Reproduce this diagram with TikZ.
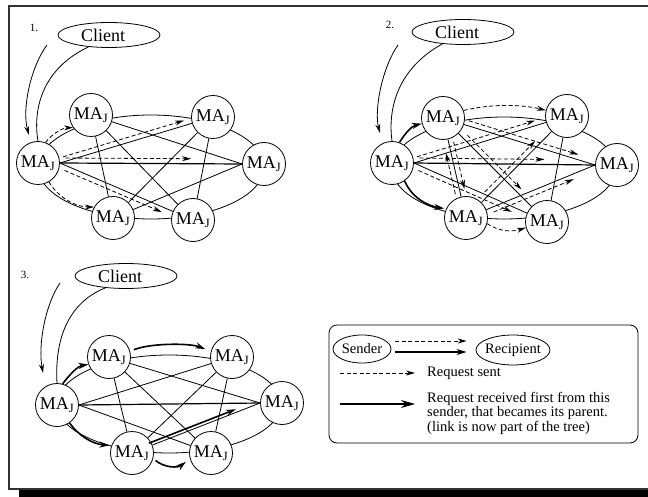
\documentclass[tikz,border=0pt]{standalone}
\usepackage{fontspec}
\setmainfont{Liberation Serif}
\usetikzlibrary{arrows.meta,calc,shapes.geometric}

\tikzset{
  agent/.style={circle,draw,fill=white,line width=0.8pt,minimum size=43pt,inner sep=0pt,font=\fontsize{18}{20}\selectfont},
  clientbox/.style={ellipse,draw,fill=white,line width=0.8pt,minimum width=102pt,minimum height=25pt,inner sep=0pt,font=\fontsize{18}{20}\selectfont},
  keybox/.style={ellipse,draw,line width=0.8pt,inner sep=0pt,font=\fontsize{14.5}{16}\selectfont},
  linkline/.style={line width=0.8pt},
  ringline/.style={line width=0.8pt},
  reqarrow/.style={line width=0.8pt,dash pattern=on 4pt off 2.5pt,-{Stealth[length=9pt,width=5pt]}},
  treearrow/.style={line width=1.6pt,-{Stealth[length=10pt,width=6pt]}},
  callarrow/.style={line width=0.8pt,-{Stealth[length=9pt,width=5pt]}},
  steplabel/.style={font=\fontsize{11}{12}\selectfont,inner sep=0pt},
  keytext/.style={font=\fontsize{14.5}{14.5}\selectfont,inner sep=0pt,align=left},
}

% all links of the six-agent mesh except the outer ring
\newcommand\meshlinks[1]{%
  \draw[linkline,line width=1.2pt] (#1L.east) -- (#1R.west);
  \draw[linkline] (#1L.east) -- (#1TR);
  \draw[linkline] (#1L.east) -- (#1BR);
  \draw[linkline] (#1TL) -- (#1R.west);
  \draw[linkline] (#1BL) -- (#1R.west);
  \draw[linkline] (#1TL) -- (#1BL);
  \draw[linkline] (#1TL) -- (#1BR);
  \draw[linkline] (#1TR) -- (#1BL);
  \draw[linkline] (#1TR) -- (#1BR);
}
% six agents, placed at TL, TR, L, R, BL, BR
\newcommand\agentset[7]{%
  \node[agent] (#1TL) at (#2) {MA\textsubscript{J}};
  \node[agent] (#1TR) at (#3) {MA\textsubscript{J}};
  \node[agent] (#1L)  at (#4) {MA\textsubscript{J}};
  \node[agent] (#1R)  at (#5) {MA\textsubscript{J}};
  \node[agent] (#1BL) at (#6) {MA\textsubscript{J}};
  \node[agent] (#1BR) at (#7) {MA\textsubscript{J}};
}
% client label, set a little left of the ellipse centre
\newcommand\clienttext{Client\hspace*{12pt}}
% arrow running beside the link from #2 to #3, between fractions #4 and #5, offset by #6
\newcommand\reqline[6][reqarrow]{%
  \draw[#1] ($(#2)!#4!(#3)!#6:(#3)$) -- ($(#2)!#5!(#3)!#6:(#3)$);}

\begin{document}
\begin{tikzpicture}[x=1pt,y=-1pt]
\useasboundingbox (0,0) rectangle (648,497);

% frame and its shadow
\fill (19,490) rectangle (648,497);
\draw[line width=1.3pt,black!80] (648,6) -- (9,6) -- (9,489) -- (648,489);

% ---------- step 1 ----------
\draw[ringline] (151,167) ellipse [x radius=113, y radius=52];
\agentset{a}{91,115}{213,117}{38,163}{264,164}{113,218}{193,220}
\node[clientbox] (aC) at (109,35) {\clienttext};
\node[steplabel] (aN) at (34,28) {1.};
\meshlinks{a}
\coordinate (aS) at (47,45);
\coordinate (aE) at (29,135);
\draw[callarrow] (aS) .. controls (30,68) and (22,110) .. (aE);
\draw[linkline] (aC.210) .. controls (40,70) and (33,112) .. (aL.north);
\draw[reqarrow] (aL.70) .. controls (52,134) and (62,128) .. (aTL.215);
\draw[reqarrow] (aL.-60) .. controls (58,197) and (75,207) .. (aBL.150);
\reqline{aL.east}{aTR}{0.03}{0.82}{5pt!90}
\reqline{aL.east}{aR.west}{0.03}{0.72}{5pt!90}
\reqline{aL.east}{aBR}{0.05}{0.78}{5pt!-90}

% ---------- step 2 ----------
\draw[ringline] (504,168) ellipse [x radius=112, y radius=51];
\agentset{b}{443,118}{567,116}{392,163}{617,165}{466,218}{547,222}
\node[clientbox] (bC) at (463,32) {\clienttext};
\node[steplabel] (bN) at (390,25) {2.};
\meshlinks{b}
\coordinate (bS) at (398,45);
\coordinate (bE) at (380,133);
\draw[callarrow] (bS) .. controls (382,68) and (374,110) .. (bE);
\draw[linkline] (bC.210) .. controls (395,70) and (388,112) .. (bL.north);
\draw[treearrow] (bL.70) .. controls (406,132) and (412,126) .. (bTL.195);
\draw[treearrow,shorten >=2pt] (bL.-55) .. controls (412,198) and (428,206) .. (bBL.155);
\reqline{bL.east}{bTR}{0.03}{0.80}{5pt!90}
\reqline{bL.east}{bR.west}{0.03}{0.72}{5pt!90}
\reqline{bL.east}{bBR}{0.05}{0.75}{5pt!-90}
\draw[reqarrow] (bTL.20) .. controls (490,104) and (520,104) .. (bTR.165);
\reqline{bTL}{bR.west}{0.16}{0.88}{5pt!90}
\reqline{bTL}{bBR}{0.2}{0.72}{5pt!90}
\reqline{bTL}{bBL}{0.25}{0.72}{5pt!90}
\reqline{bBL}{bTL}{0.25}{0.66}{5pt!90}
\reqline{bBL}{bTR}{0.22}{0.72}{5pt!90}
\reqline{bBL}{bR.west}{0.2}{0.82}{5pt!-90}
\draw[reqarrow] (bBL.-15) .. controls (500,232) and (512,232) .. (bBR.195);

% ---------- step 3 ----------
\draw[ringline] (169,404) ellipse [x radius=112, y radius=49];
\agentset{c}{109,357}{232,357}{57,405}{282,403}{132,453}{211,453}
\node[clientbox] (cC) at (126,276) {\clienttext};
\node[steplabel] (cN) at (25,275) {3.};
\meshlinks{c}
\coordinate (cS) at (60,283);
\coordinate (cE) at (43,373);
\draw[callarrow] (cS) .. controls (45,305) and (38,345) .. (cE);
\draw[linkline] (cC.210) .. controls (62,305) and (55,350) .. (cL.north);
\draw[treearrow] (cL.75) .. controls (70,374) and (78,366) .. (cTL.200);
\draw[treearrow,shorten >=2pt] (cL.-55) .. controls (78,435) and (92,444) .. (cBL.160);
\draw[treearrow,shorten >=6pt,shorten <=4pt] (cTL.15) .. controls (150,343) and (190,343) .. (cTR.165);
\draw[treearrow,shorten >=5pt,shorten <=3pt] (cBL.-15) .. controls (165,468) and (178,468) .. (cBR.195);
\reqline[treearrow]{cBL}{cR.west}{0.14}{0.82}{3pt!90}

% ---------- key ----------
\node[draw,line width=0.8pt,rounded corners=8pt,minimum width=309pt,minimum height=118pt,inner sep=0pt] (key) at (483.5,384) {};
\node[keybox,minimum width=58pt,minimum height=28pt] (snd) at (362,349) {Sender};
\node[keybox,inner xsep=-2pt,minimum width=74pt,minimum height=30pt] (rcp) at (513,350) {Recipient};
\draw[reqarrow] ($(snd.east)+(4,-8)$) -- ($(rcp.west)+(-9,-9)$);
\draw[treearrow] ($(snd.east)+(4,3)$) -- ($(rcp.west)+(-9,2)$);
\coordinate (k1s) at (340,373);
\coordinate (k1e) at (415,373);
\draw[reqarrow] (k1s) -- (k1e);
\node[keytext,anchor=west] (k1t) at (427,373) {Request sent};
\coordinate (k2s) at (340,404);
\coordinate (k2e) at (415,404);
\draw[treearrow,-{Stealth[length=14pt,width=8pt]}] (k2s) -- (k2e);
\node[keytext,anchor=west] (k2t) at (427,413) {Request received first from this\\sender, that becames its parent.\\(link is now part of the tree)};
\end{tikzpicture}
\end{document}
